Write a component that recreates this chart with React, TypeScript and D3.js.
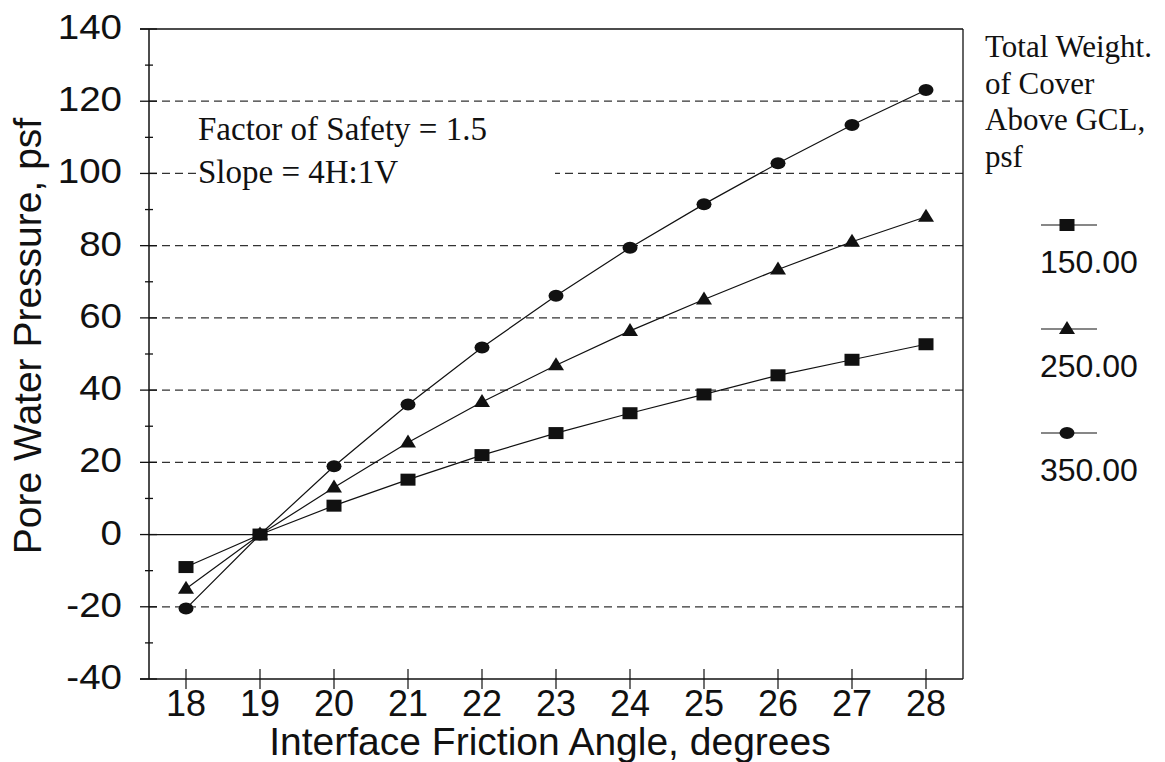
import React from 'react';
import * as d3 from 'd3';

const width = 1165;
const height = 762;

// interface friction angle, degrees
const angles = [18, 19, 20, 21, 22, 23, 24, 25, 26, 27, 28];
// pore water pressure, psf, one list per cover weight
const cover150 = [-9, 0, 8, 15.2, 22, 28.1, 33.6, 38.8, 44.1, 48.4, 52.7];
const cover250 = [-15, 0, 13, 25.5, 36.7, 46.9, 56.4, 65.1, 73.4, 81.1, 88];
const cover350 = [-20.5, 0, 18.9, 36, 51.8, 66.1, 79.4, 91.5, 102.8, 113.4, 123.1];
const seriesNames = ['150.00', '250.00', '350.00'];
const seriesMarkers = ['square', 'triangle', 'circle'];

const yTicks = [-40, -20, 0, 20, 40, 60, 80, 100, 120, 140];
const yMinor = [-30, -10, 10, 30, 50, 70, 90, 110, 130];
const gridValues = [-20, 20, 40, 60, 80, 100, 120];

const noteLines = ['Factor of Safety = 1.5', 'Slope = 4H:1V'];
const legendTitle = ['Total Weight.', 'of Cover', 'Above GCL,', 'psf'];

const x = d3.scaleLinear().domain([17.5, 28.5]).range([149, 963]);
const y = d3.scaleLinear().domain([-40, 140]).range([679, 29]);

const ink = '#111';
const sans = 'Arial, "Liberation Sans", Helvetica, sans-serif';
const serif = '"Times New Roman", "Liberation Serif", Times, serif';

function Marker({ kind, cx, cy }: { kind: string; cx: number; cy: number }) {
  if (kind === 'square') return <rect x={cx - 7.5} y={cy - 6} width={15} height={12} fill={ink} />;
  if (kind === 'triangle')
    return <path d={`M${cx},${cy - 8}L${cx + 8},${cy + 5}L${cx - 8},${cy + 5}Z`} fill={ink} />;
  return <ellipse cx={cx} cy={cy} rx={7.5} ry={6} fill={ink} />;
}

export default function App() {
  const series = [cover150, cover250, cover350];
  const line = d3
    .line<number>()
    .x((_, i) => x(angles[i]))
    .y((d) => y(d));

  return (
    <svg width={width} height={height} style={{ position: 'absolute', left: 0, top: 0, background: '#fff' }}>
      <rect width={width} height={height} fill="#fff" />

      {/* dashed gridlines */}
      {gridValues.map((v) => (
        <line key={v} x1={149} x2={963} y1={y(v)} y2={y(v)} stroke="#333" strokeWidth={1.3} strokeDasharray="8,5" />
      ))}
      {/* zero line */}
      <line x1={149} x2={963} y1={y(0)} y2={y(0)} stroke={ink} strokeWidth={1.3} />

      {/* note box hides the 100 gridline */}
      <rect x={197} y={108} width={358} height={84} fill="#fff" />
      {noteLines.map((t, i) => (
        <text key={t} x={198} y={140 + i * 43} fontFamily={serif} fontSize={33} fill={ink}>
          {t}
        </text>
      ))}

      {/* frame */}
      <line x1={140} x2={963} y1={y(140)} y2={y(140)} stroke={ink} strokeWidth={1.5} />
      <line x1={963} x2={963} y1={y(140)} y2={y(-40)} stroke={ink} strokeWidth={1.3} />
      <line x1={140} x2={963} y1={y(-40)} y2={y(-40)} stroke={ink} strokeWidth={1.5} />
      <line x1={149} x2={149} y1={y(140)} y2={y(-40)} stroke={ink} strokeWidth={1.5} />

      {/* y ticks */}
      {yTicks.map((v) => (
        <g key={v}>
          <line x1={140} x2={157} y1={y(v)} y2={y(v)} stroke={ink} strokeWidth={1.3} />
          <text
            transform={`translate(122,${y(v) + 10}) scale(1.1,1)`}
            textAnchor="end"
            fontFamily={sans}
            fontSize={35}
            fill={ink}
          >
            {v}
          </text>
        </g>
      ))}
      {yMinor.map((v) => (
        <line key={v} x1={145} x2={153} y1={y(v)} y2={y(v)} stroke={ink} strokeWidth={1.3} />
      ))}

      {/* x ticks */}
      {angles.map((a) => (
        <g key={a}>
          <line x1={x(a)} x2={x(a)} y1={669} y2={689} stroke={ink} strokeWidth={1.2} />
          <text x={x(a)} y={716} textAnchor="middle" fontFamily={sans} fontSize={36} fill={ink}>
            {a}
          </text>
        </g>
      ))}

      <text x={550} y={755} textAnchor="middle" fontFamily={sans} fontSize={39} fill={ink}>
        Interface Friction Angle, degrees
      </text>
      <text
        transform={`translate(41,336) rotate(-90)`}
        textAnchor="middle"
        fontFamily={sans}
        fontSize={39}
        fill={ink}
      >
        Pore Water Pressure, psf
      </text>

      {/* series */}
      {series.map((s, si) => (
        <g key={si}>
          <path d={line(s) || ''} fill="none" stroke={ink} strokeWidth={1.2} />
          {s.map((v, i) => (
            <Marker key={i} kind={seriesMarkers[si]} cx={x(angles[i])} cy={y(v)} />
          ))}
        </g>
      ))}

      {/* legend */}
      {legendTitle.map((t, i) => (
        <text key={t} x={985} y={57 + i * 36.5} fontFamily={serif} fontSize={31} fill={ink}>
          {t}
        </text>
      ))}
      {seriesNames.map((n, i) => {
        const ly = 225 + i * 104;
        return (
          <g key={n}>
            <line x1={1041} x2={1097} y1={ly} y2={ly} stroke={ink} strokeWidth={1.2} />
            <Marker kind={seriesMarkers[i]} cx={1067} cy={ly} />
            <text x={1040} y={ly + 48} fontFamily={sans} fontSize={32} fill={ink}>
              {n}
            </text>
          </g>
        );
      })}
    </svg>
  );
}
